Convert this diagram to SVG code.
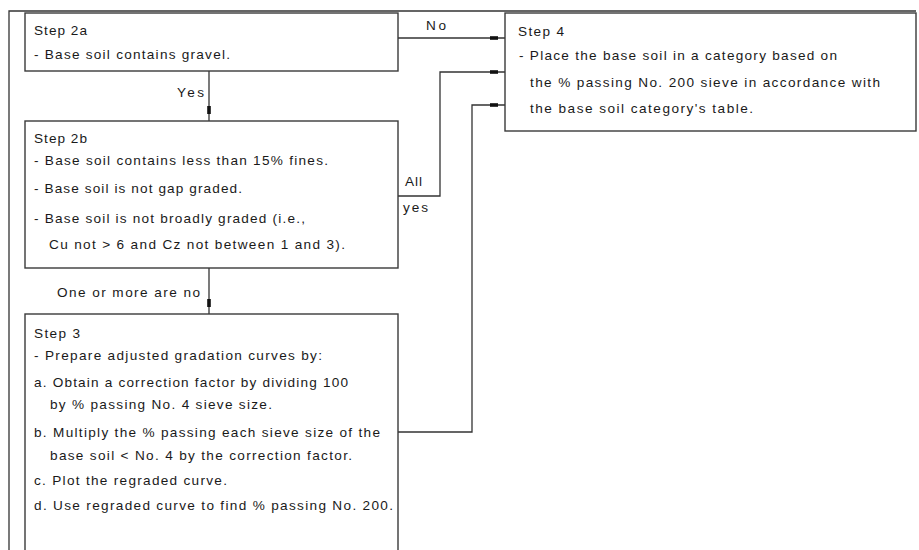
<svg xmlns="http://www.w3.org/2000/svg" width="919" height="550" viewBox="0 0 919 550">
<style>
.box{fill:#fff;stroke:#3a3a3a;stroke-width:1.4}
.ln{fill:none;stroke:#333;stroke-width:1.3}
text{font-family:"Liberation Sans",Arial,sans-serif;font-size:13.6px;fill:#1a1a1a}
</style>
<defs>
<marker id="tick" markerUnits="userSpaceOnUse" viewBox="0 0 15 4" markerWidth="15" markerHeight="4" refX="15" refY="2" orient="auto">
<rect x="0" y="0.2" width="8" height="3.6" fill="#111"/>
</marker>
</defs>
<rect width="919" height="550" fill="#fff"/>
<path class="ln" d="M9,556 V11 H916"/>
<g id="connectors">
<path class="ln" d="M398,38 H505" marker-end="url(#tick)"/>
<path class="ln" d="M209,71 V121" marker-end="url(#tick)"/>
<path class="ln" d="M209,268 V314" marker-end="url(#tick)"/>
<path class="ln" d="M398,196 H440 V72 H505" marker-end="url(#tick)"/>
<path class="ln" d="M398,432 H472 V105 H505" marker-end="url(#tick)"/>
<text x="426" y="30" textLength="20" lengthAdjust="spacing">No</text>
<text x="177" y="97" textLength="27" lengthAdjust="spacing">Yes</text>
<text x="405" y="186" textLength="17" lengthAdjust="spacing">All</text>
<text x="403" y="212" textLength="25" lengthAdjust="spacing">yes</text>
<text x="57" y="297" textLength="143" lengthAdjust="spacing">One or more are no</text>
</g>
<g id="step2a">
<rect class="box" x="25" y="13" width="373" height="58"/>
<text x="34" y="35" textLength="53" lengthAdjust="spacing">Step 2a</text>
<text x="34" y="59" textLength="196" lengthAdjust="spacing">- Base soil contains gravel.</text>
</g>
<g id="step4">
<rect class="box" x="505" y="13" width="411" height="118"/>
<text x="518" y="36" textLength="46" lengthAdjust="spacing">Step 4</text>
<text x="519" y="60" textLength="318" lengthAdjust="spacing">- Place the base soil in a category based on</text>
<text x="530" y="87" textLength="350" lengthAdjust="spacing">the % passing No. 200 sieve in accordance with</text>
<text x="530" y="113" textLength="223" lengthAdjust="spacing">the base soil category's table.</text>
</g>
<g id="step2b">
<rect class="box" x="25" y="121" width="373" height="147"/>
<text x="34" y="143" textLength="53" lengthAdjust="spacing">Step 2b</text>
<text x="34" y="165" textLength="294" lengthAdjust="spacing">- Base soil contains less than 15% fines.</text>
<text x="34" y="193" textLength="208" lengthAdjust="spacing">- Base soil is not gap graded.</text>
<text x="34" y="223" textLength="271" lengthAdjust="spacing">- Base soil is not broadly graded (i.e.,</text>
<text x="49" y="249" textLength="296" lengthAdjust="spacing">Cu not &gt; 6 and Cz not between 1 and 3).</text>
</g>
<g id="step3">
<rect class="box" x="25" y="314" width="373" height="250"/>
<text x="34" y="338" textLength="46" lengthAdjust="spacing">Step 3</text>
<text x="34" y="360" textLength="288" lengthAdjust="spacing">- Prepare adjusted gradation curves by:</text>
<text x="34" y="387" textLength="314" lengthAdjust="spacing">a. Obtain a correction factor by dividing 100</text>
<text x="50" y="409" textLength="222" lengthAdjust="spacing">by % passing No. 4 sieve size.</text>
<text x="34" y="437" textLength="346" lengthAdjust="spacing">b. Multiply the % passing each sieve size of the</text>
<text x="50" y="460" textLength="302" lengthAdjust="spacing">base soil &lt; No. 4 by the correction factor.</text>
<text x="34" y="485" textLength="193" lengthAdjust="spacing">c. Plot the regraded curve.</text>
<text x="34" y="510" textLength="359" lengthAdjust="spacing">d. Use regraded curve to find % passing No. 200.</text>
</g>
</svg>
